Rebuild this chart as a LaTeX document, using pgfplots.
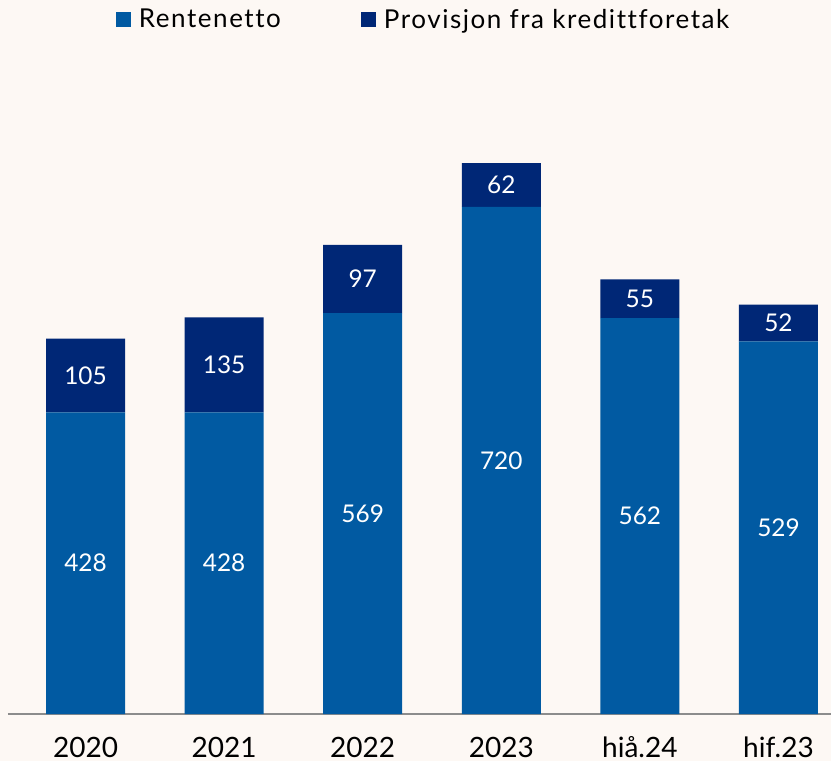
\documentclass[border=0pt]{standalone}
\usepackage{pgfplots}
\pgfplotsset{compat=1.18}
\usepackage{fontspec}
\setmainfont{Lato}
\newfontfamily\legfont[LetterSpace=6, Ligatures=NoCommon]{Lato}
\definecolor{rente}{HTML}{015AA2}
\definecolor{prov}{HTML}{002776}
\definecolor{bg}{HTML}{FDF8F4}
\definecolor{axisgray}{HTML}{8C8C8C}
\tikzset{lbl/.style={text=white, font=\fontsize{12.2}{14}\selectfont}}
\begin{document}
\begin{tikzpicture}
\fill[bg] (0,-23.5pt) rectangle (415.5pt,357pt);
\begin{axis}[
    scale only axis, width=415.5pt, height=357pt,
    ybar stacked, bar width=39.5pt,
    xmin=-0.617, xmax=5.379, ymin=0, ymax=1013.5,
    ytick=\empty, axis line style={draw=none},
    xtick=data, xticklabels={2020,2021,2022,2023,hiå.24,hif.23},
    major tick length=0pt,
    xticklabel style={anchor=base, inner sep=0pt, yshift=-21.5pt, font=\fontsize{14}{16}\selectfont, text=black},
    clip=false,
    legend columns=2,
    legend style={at={(0.511,0.972)}, anchor=center, draw=none, fill=none,
        font=\legfont\fontsize{13}{15}\selectfont,
        /tikz/every even column/.append style={column sep=38pt}},
    legend image code/.code={\fill[#1] (0pt,-3.75pt) rectangle (7.5pt,3.75pt);},
]
% Rentenetto
\addplot[fill=rente, draw=none] coordinates {(0,428) (1,428) (2,569) (3,720) (4,562) (5,529)};
% Provisjon fra kredittforetak
\addplot[fill=prov, draw=none] coordinates {(0,105) (1,135) (2,97) (3,62) (4,55) (5,52)};
\legend{\hspace{2pt}Rentenetto, \hspace{2pt}Provisjon fra kredittforetak}
\draw[axisgray, line width=1pt] (rel axis cs:0.0096,0) -- (rel axis cs:1,0);
% segment centres for the value labels
\coordinate (r0) at (axis cs:0,214);
\coordinate (r1) at (axis cs:1,214);
\coordinate (r2) at (axis cs:2,284.5);
\coordinate (r3) at (axis cs:3,360);
\coordinate (r4) at (axis cs:4,281);
\coordinate (r5) at (axis cs:5,264.5);
\coordinate (p0) at (axis cs:0,480.5);
\coordinate (p1) at (axis cs:1,495.5);
\coordinate (p2) at (axis cs:2,617.5);
\coordinate (p3) at (axis cs:3,751);
\coordinate (p4) at (axis cs:4,589.5);
\coordinate (p5) at (axis cs:5,555);
\end{axis}
\node[lbl] at (r0) {428};
\node[lbl] at (r1) {428};
\node[lbl] at (r2) {569};
\node[lbl] at (r3) {720};
\node[lbl] at (r4) {562};
\node[lbl] at (r5) {529};
\node[lbl] at (p0) {105};
\node[lbl] at (p1) {135};
\node[lbl] at (p2) {97};
\node[lbl] at (p3) {62};
\node[lbl] at (p4) {55};
\node[lbl] at (p5) {52};
\pgfresetboundingbox
\path[use as bounding box] (0,-23.5pt) rectangle (415.5pt,357pt);
\end{tikzpicture}
\end{document}
